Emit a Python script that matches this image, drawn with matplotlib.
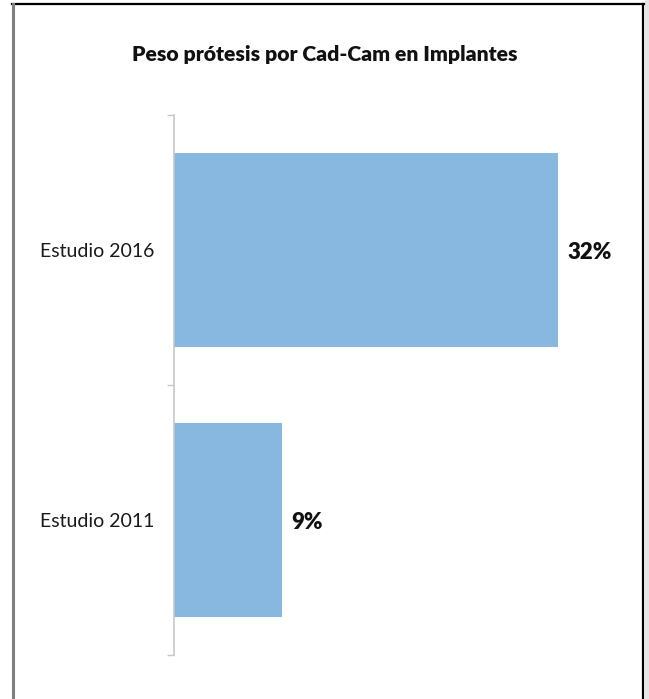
import matplotlib.pyplot as plt
from matplotlib.lines import Line2D
from matplotlib.patches import Rectangle

plt.rcParams['font.family'] = ['Lato', 'DejaVu Sans']

title = 'Peso prótesis por Cad-Cam en Implantes'
categories = ['Estudio 2011', 'Estudio 2016']
values = [9, 32]
labels = ['9%', '32%']

W, H = 649, 699
fig = plt.figure(figsize=(W / 100, H / 100), dpi=100)

def fx(px):
    return px / W

def fy(py):
    return 1 - py / H

# frame around the chart
fig.add_artist(Rectangle((fx(645), 0), fx(4), 1, color='#e6e6e6', lw=0))
fig.add_artist(Line2D([fx(12), fx(644)], [fy(4), fy(4)], color='black', lw=1.6))
fig.add_artist(Line2D([fx(13), fx(13)], [fy(4), 0], color='#808080', lw=2.2))
fig.add_artist(Line2D([fx(643), fx(643)], [fy(4), 0], color='black', lw=1.6))

ax = fig.add_axes([fx(174), fy(655), fx(432), (655 - 115) / H])
ax.barh(range(len(categories)), values, height=0.715, color='#88b7e0')
ax.set_xlim(0, 36)
ax.set_ylim(-0.5, 1.5)

for i, (v, lab) in enumerate(zip(values, labels)):
    ax.annotate(lab, (v, i), xytext=(7, -2), textcoords='offset points',
                ha='left', va='center', fontsize=16, fontweight='heavy',
                color='#111111')

ax.set_yticks(range(len(categories)))
ax.set_yticklabels(categories, fontsize=14, color='#1a1a1a')
ax.tick_params(axis='y', which='major', length=0, pad=14)
ax.set_yticks([-0.5, 0.5, 1.5], minor=True)
ax.tick_params(axis='y', which='minor', length=5, color='#c8c8c8', width=1)
ax.set_xticks([])
for s in ['top', 'right', 'bottom']:
    ax.spines[s].set_visible(False)
ax.spines['left'].set_color('#c8c8c8')
ax.spines['left'].set_linewidth(1.2)

fig.text(fx(325), fy(54), title, ha='center', va='center',
         fontsize=15.2, fontweight='heavy', color='#111111')

fig.savefig('out.png', dpi=100)
